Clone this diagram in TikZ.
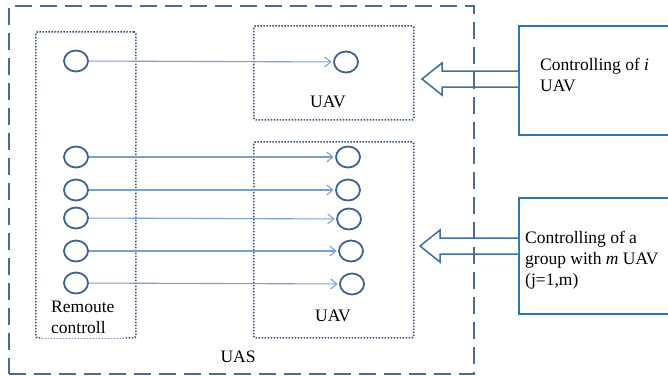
\documentclass[tikz,border=0pt]{standalone}
\usepackage{fontspec}
\setmainfont{Liberation Serif}
\usetikzlibrary{arrows.meta,shapes.geometric}
\definecolor{dashc}{HTML}{4A6B98}
\definecolor{dotc}{HTML}{35547F}
\definecolor{circc}{HTML}{41618E}
\definecolor{arrc}{HTML}{7A9FD4}
\definecolor{blkc}{HTML}{41719C}
\definecolor{boxc}{HTML}{2E75B6}
\begin{document}
\begin{tikzpicture}[x=1pt,y=-1pt,
  uas/.style={draw=dashc, line width=2.2pt, dash pattern=on 17pt off 8pt},
  grp/.style={draw=dotc, line width=1.7pt, dash pattern=on 1.5pt off 1.5pt, rounded corners=2pt, inner sep=0, anchor=north west},
  dev/.style={ellipse, draw=circc, line width=1.8pt, minimum width=24pt, minimum height=21pt, inner sep=0},
  link/.style={draw=arrc, line width=1.1pt, shorten >=1.5pt, -{Straight Barb[length=6pt,width=10pt]}},
  ctrl/.style={draw=boxc, line width=2pt, inner sep=0, anchor=north west},
  blk/.style={draw=blkc, line width=1.5pt, fill=white, line join=miter},
  lbl/.style={font=\fontsize{17.5}{20.5}\selectfont, inner sep=0}]
\useasboundingbox (0,0) rectangle (668,375);
\clip (0,0) rectangle (668,375);
% control boxes
\node[ctrl, minimum width=175pt, minimum height=109pt] (c1) at (518,25) {};
\node[ctrl, minimum width=175pt, minimum height=116pt] (c2) at (518,197) {};
\coordinate (a1) at (c1.west |- 0,79);
\coordinate (a2) at (c2.west |- 0,246);
% block arrows
\draw[blk] (a1) ++(0,-8) -- ++(-76,0) -- ++(0,-8) -- ++(-20,16) -- ++(20,16) -- ++(0,-8) -- ++(76,0);
\draw[blk] (a2) ++(0,-8) -- ++(-78,0) -- ++(0,-8) -- ++(-20,16) -- ++(20,16) -- ++(0,-8) -- ++(78,0);
% UAS frame
\node[uas, inner sep=0, anchor=north west, minimum width=465pt, minimum height=368pt] (frame) at (8,5) {};
% groups
\node[grp, minimum width=100pt, minimum height=306pt] (rc) at (35,31) {};
\node[grp, minimum width=160pt, minimum height=94pt] (g1) at (253,25) {};
\node[grp, minimum width=160pt, minimum height=196pt] (g2) at (253,141) {};
% devices
\node[dev] (l0) at (76,61) {};
\node[dev] (l1) at (76,157) {};
\node[dev] (l2) at (76,190) {};
\node[dev] (l3) at (76,218) {};
\node[dev] (l4) at (76,251) {};
\node[dev] (l5) at (76,283) {};
\node[dev] (r0) at (346,62) {};
\node[dev] (r1) at (348,157) {};
\node[dev] (r2) at (348,190) {};
\node[dev] (r3) at (349,219) {};
\node[dev] (r4) at (351,251) {};
\node[dev] (r5) at (352,284) {};
\foreach \i in {0,...,5} {\draw[link] (l\i) -- (r\i);}
% labels
\node[lbl, fill=white, align=left, text width=65pt, inner xsep=9pt, inner ysep=0pt, minimum height=42pt, anchor=north west] (rclbl) at (42,296) {Remoute\\controll};
\node[lbl, anchor=base] (uaslbl) at (238,362) {UAS};
\node[lbl, anchor=base] (uav1) at (328,107) {UAV};
\node[lbl, anchor=base] (uav2) at (333,321) {UAV};
\node[lbl, anchor=base west] (t1a) at (540,70) {Controlling of \textit{i}};
\node[lbl, anchor=base west] (t1b) at (540,91) {UAV};
\node[lbl, anchor=base west] (t2a) at (525,243) {Controlling of a};
\node[lbl, anchor=base west] (t2b) at (525,264) {group with \textit{m} UAV};
\node[lbl, anchor=base west] (t2c) at (525,285) {(j=1,m)};
\end{tikzpicture}
\end{document}
